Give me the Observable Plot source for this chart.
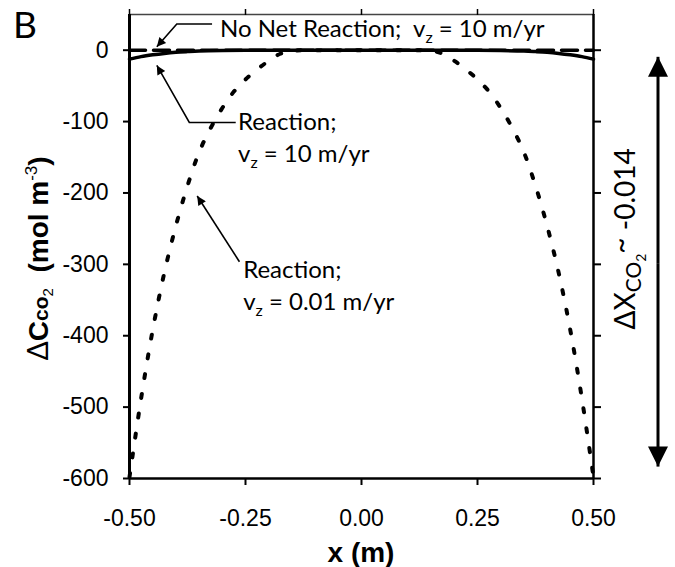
<!DOCTYPE html>
<html><head><meta charset="utf-8">
<script src="https://cdn.jsdelivr.net/npm/d3@7"></script>
<script src="https://cdn.jsdelivr.net/npm/@observablehq/plot@0.6"></script>
<style>
body{margin:0;background:#fff;}
#chart svg{display:block;}
</style></head><body><div id="chart"></div>
<script>
// ---- data ----
const xTicks = [-0.5, -0.25, 0, 0.25, 0.5];
const yTicks = [0, -100, -200, -300, -400, -500, -600];

const xNoNet = [-0.5, 0.5];
const yNoNet = [0, 0];

const xSolid = [-0.5, -0.475, -0.45, -0.425, -0.4, -0.375, -0.35, -0.3, -0.25, -0.2, 0, 0.2, 0.25, 0.3, 0.35, 0.375, 0.4, 0.425, 0.45, 0.475, 0.5];
const ySolid = [-12.5, -9, -6.5, -4.5, -3, -2, -1.2, -0.5, -0.2, 0, 0, 0, -0.2, -0.5, -1.2, -2, -3, -4.5, -6.5, -9, -12.5];

const xDotted = [-0.5, -0.475, -0.45, -0.425, -0.4, -0.375, -0.35, -0.325, -0.3, -0.275, -0.25, -0.225, -0.2, -0.175, -0.15, -0.1, -0.05, 0, 0.05, 0.1, 0.15, 0.175, 0.2, 0.225, 0.25, 0.275, 0.3, 0.325, 0.35, 0.375, 0.4, 0.425, 0.45, 0.475, 0.5];
const yDotted = [-598, -488, -392, -312, -246, -190, -143, -109, -81, -58, -41, -27, -15, -5, -1, 0, 0, 0, 0, 0, -1, -5, -15, -27, -41, -58, -81, -109, -143, -190, -246, -312, -392, -488, -598];

const tbl = (xs, ys) => xs.map((x, i) => ({x, y: ys[i]}));

const chart = Plot.plot({
  width: 675,
  height: 567,
  marginLeft: 129,
  marginRight: 82,
  marginTop: 14,
  marginBottom: 89,
  x: {domain: [-0.5, 0.5]},
  y: {domain: [-600, 50]},
  style: {fontFamily: "'Liberation Sans', Arial, sans-serif", fontSize: "23px", color: "#000", background: "#fff", overflow: "visible"},
  marks: [
    Plot.line(tbl(xNoNet, yNoNet), {x: "x", y: "y", stroke: "#000", strokeWidth: 3.5, strokeDasharray: "16,8"}),
    Plot.line(tbl(xSolid, ySolid), {x: "x", y: "y", stroke: "#000", strokeWidth: 3.5, curve: "catmull-rom"}),
    Plot.line(tbl(xDotted, yDotted), {x: "x", y: "y", stroke: "#000", strokeWidth: 4, strokeDasharray: "4,16", curve: "catmull-rom"}),
    Plot.ruleY([50], {stroke: "#444", strokeWidth: 1.5}),
    Plot.ruleX([-0.5], {stroke: "#000", strokeWidth: 3}),
    Plot.ruleX([0.5], {stroke: "#000", strokeWidth: 2.5}),
    Plot.ruleY([-600], {stroke: "#000", strokeWidth: 2.5}),
    Plot.axisX(xTicks, {anchor: "bottom", tickSize: 7, tickPadding: 24, strokeWidth: 2, tickFormat: d => d.toFixed(2), label: null}),
    Plot.axisX(xTicks, {anchor: "top", tickSize: 6, strokeWidth: 1.5, tickFormat: () => "", label: null}),
    Plot.axisY(yTicks, {anchor: "left", tickSize: 6, tickPadding: 15, strokeWidth: 2, tickFormat: d => String(d), label: null}),
    Plot.axisY(yTicks, {anchor: "right", tickSize: 7, strokeWidth: 2, tickFormat: () => "", label: null})
  ]
});
document.getElementById("chart").appendChild(chart);

// ---- annotations (positioned through the plot's scales) ----
const sx = v => chart.scale("x").apply(v);
const sy = v => chart.scale("y").apply(v);
const svg = d3.select(chart);
const defs = svg.append("defs");
defs.append("marker").attr("id", "ahSmall").attr("viewBox", "0 0 10 10")
  .attr("refX", 10).attr("refY", 5).attr("markerUnits", "userSpaceOnUse")
  .attr("markerWidth", 14).attr("markerHeight", 9).attr("orient", "auto")
  .append("path").attr("d", "M0,0L10,5L0,10z").attr("fill", "#000");
defs.append("marker").attr("id", "ahBig").attr("viewBox", "0 0 10 10")
  .attr("refX", 10).attr("refY", 5).attr("markerUnits", "userSpaceOnUse")
  .attr("markerWidth", 32).attr("markerHeight", 20).attr("orient", "auto")
  .append("path").attr("d", "M0,0L10,5L0,10z").attr("fill", "#000");

const annFont = "Lato, 'Open Sans', sans-serif";
const g = svg.append("g").attr("font-family", annFont).attr("font-size", 24)
  .attr("fill", "#000").attr("text-anchor", "start");

function vzLine(x, y, pre, post) {
  const t = g.append("text").attr("x", x).attr("y", y).attr("xml:space", "preserve");
  t.append("tspan").text(pre + "v");
  t.append("tspan").attr("font-size", 16).attr("dy", 6).text("z");
  t.append("tspan").attr("dy", -6).text(post);
}
function leader(pts) {
  g.append("path").attr("d", d3.line()(pts)).attr("fill", "none").attr("stroke", "#000")
    .attr("stroke-width", 1.6).attr("marker-end", "url(#ahSmall)");
}

// No Net Reaction
vzLine(sx(-0.304), sy(18), "No Net Reaction;\u00a0 ", " = 10 m/yr");
leader([[sx(-0.321), sy(36)], [sx(-0.397), sy(36)], [sx(-0.44), sy(4)]]);

// Reaction; vz = 10 m/yr
g.append("text").attr("x", sx(-0.265)).attr("y", sy(-112)).text("Reaction;");
vzLine(sx(-0.265), sy(-157), "", " = 10 m/yr");
leader([[sx(-0.27), sy(-102)], [sx(-0.37), sy(-102)], [sx(-0.44), sy(-22)]]);

// Reaction; vz = 0.01 m/yr
g.append("text").attr("x", sx(-0.254)).attr("y", sy(-320)).text("Reaction;");
vzLine(sx(-0.254), sy(-365), "", " = 0.01 m/yr");
leader([[sx(-0.262), sy(-297)], [sx(-0.353), sy(-205)]]);

// Double arrow on the right
const ax = sx(0.5) + 65;
svg.append("line").attr("x1", ax).attr("x2", ax).attr("y1", sy(-300)).attr("y2", sy(-10))
  .attr("stroke", "#000").attr("stroke-width", 3).attr("marker-end", "url(#ahBig)");
svg.append("line").attr("x1", ax).attr("x2", ax).attr("y1", sy(-300)).attr("y2", sy(-584))
  .attr("stroke", "#000").attr("stroke-width", 3).attr("marker-end", "url(#ahBig)");

// Right label: ΔX_CO2 ~ -0.014
{
  const cx = sx(0.5) + 42, cy = sy(-265);
  const t = svg.append("text").attr("transform", `translate(${cx},${cy}) rotate(-90)`)
    .attr("text-anchor", "middle").attr("font-family", annFont).attr("font-size", 28).attr("fill", "#000")
    .attr("xml:space", "preserve");
  t.append("tspan").text("ΔX");
  t.append("tspan").attr("font-size", 21).attr("dy", 6).text("CO");
  t.append("tspan").attr("font-size", 14).attr("dy", 5).text("2");
  t.append("tspan").attr("dy", -15).text("~");
  t.append("tspan").attr("dy", 4).text(" -0.014");
}

// Y axis title
{
  const t = svg.append("text").attr("transform", `translate(48,${sy(-435)}) rotate(-90)`)
    .attr("text-anchor", "start").attr("font-family", "'Liberation Sans', Arial, sans-serif")
    .attr("font-size", 28).attr("font-weight", "bold").attr("fill", "#000").attr("xml:space", "preserve");
  t.append("tspan").attr("font-weight", "normal").attr("font-family", annFont).text("Δ");
  t.append("tspan").text("C");
  t.append("tspan").attr("font-size", 21).text("co");
  t.append("tspan").attr("font-size", 15).attr("font-weight", "normal").attr("dy", 5).text("2");
  t.append("tspan").attr("dy", -5).text("  (mol m");
  t.append("tspan").attr("font-size", 17).attr("font-weight", "normal").attr("dy", -11).text("-3");
  t.append("tspan").attr("dy", 11).text(")");
}

// X axis title
svg.append("text").attr("x", sx(0)).attr("y", 562).attr("text-anchor", "middle")
  .attr("font-family", "'Liberation Sans', Arial, sans-serif").attr("font-size", 28)
  .attr("font-weight", "bold").attr("fill", "#000").text("x (m)");

// Panel letter
svg.append("text").attr("x", 13).attr("y", 38).attr("text-anchor", "start").attr("font-family", annFont)
  .attr("font-size", 37).attr("fill", "#000").text("B");
</script>
</body></html>
